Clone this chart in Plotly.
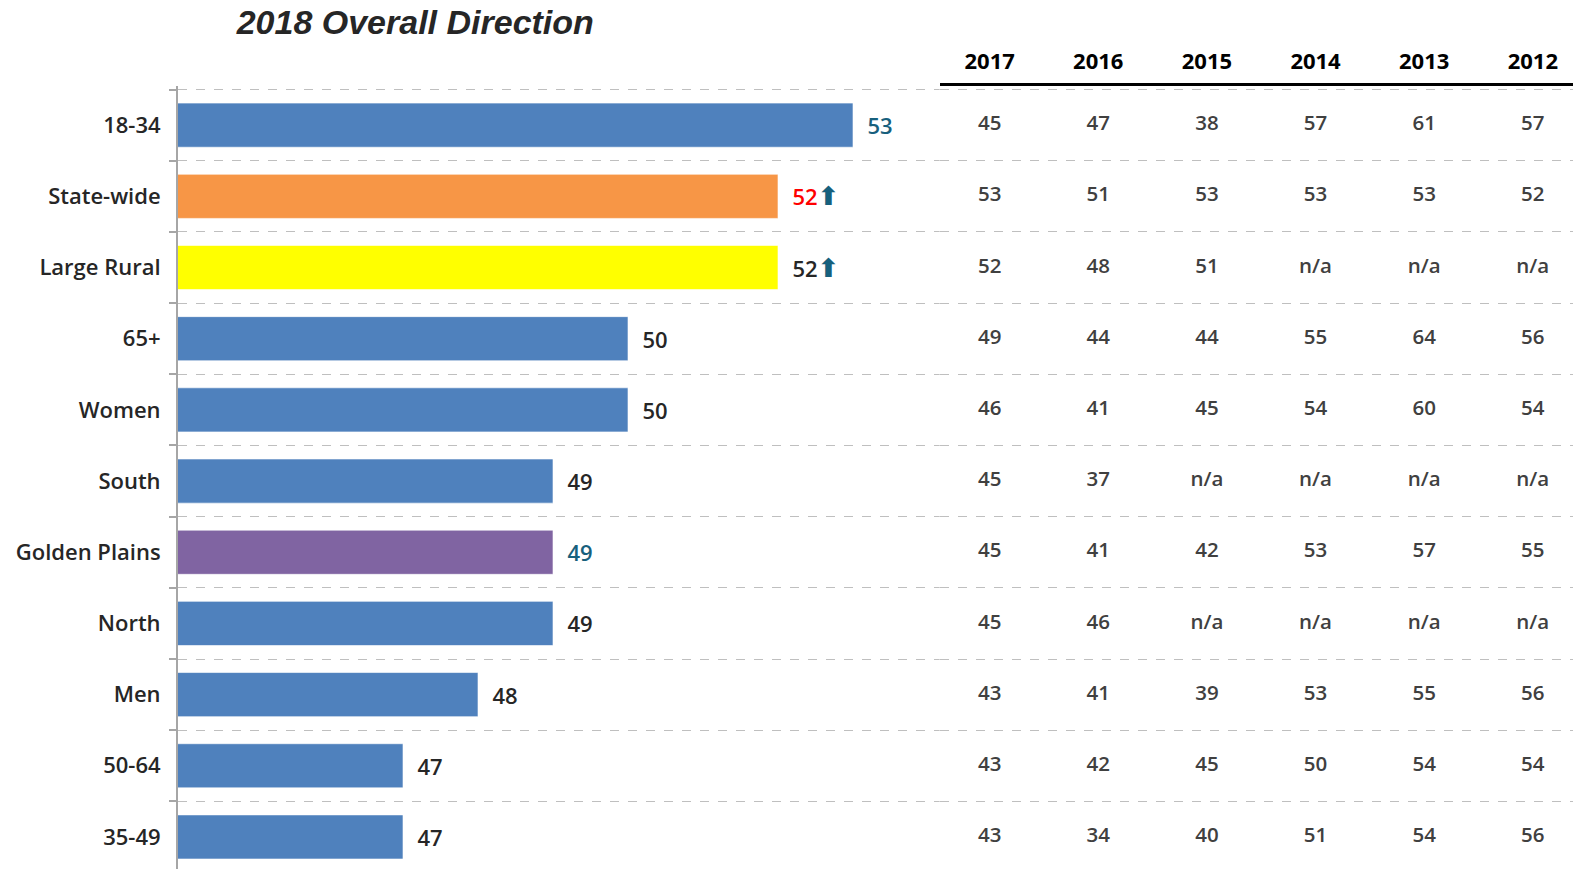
import plotly.graph_objects as go

# --- données ---
categories = ["18-34", "State-wide", "Large Rural", "65+", "Women", "South",
              "Golden Plains", "North", "Men", "50-64", "35-49"]
values_2018 = [53, 52, 52, 50, 50, 49, 49, 49, 48, 47, 47]
bar_colors = ["#4F81BD", "#F79646", "#FFFF00", "#4F81BD", "#4F81BD", "#4F81BD",
              "#8064A2", "#4F81BD", "#4F81BD", "#4F81BD", "#4F81BD"]
years = ["2017", "2016", "2015", "2014", "2013", "2012"]
history = {
    "2017": ["45", "53", "52", "49", "46", "45", "45", "45", "43", "43", "43"],
    "2016": ["47", "51", "48", "44", "41", "37", "41", "46", "41", "42", "34"],
    "2015": ["38", "53", "51", "44", "45", "n/a", "42", "n/a", "39", "45", "40"],
    "2014": ["57", "53", "n/a", "55", "54", "n/a", "53", "n/a", "53", "50", "51"],
    "2013": ["61", "53", "n/a", "64", "60", "n/a", "57", "n/a", "55", "54", "54"],
    "2012": ["57", "52", "n/a", "56", "54", "n/a", "55", "n/a", "56", "54", "56"],
}

TEAL = "#17607D"
# couleur du libellé de chaque barre + flèche éventuelle
label_colors = [TEAL, "red", "#262626", "#262626", "#262626", "#262626",
                TEAL, "#262626", "#262626", "#262626", "#262626"]
arrows = ["", "⬆", "⬆", "", "", "", "", "", "", "", ""]

bar_text = []
for v, c, a in zip(values_2018, label_colors, arrows):
    t = "  <span style='color:%s'>%d</span>" % (c, v)
    if a:
        t += "<span style='color:%s;font-family:DejaVu Sans;font-size:26px'>%s</span>" % (TEAL, a)
    bar_text.append(t)

fig = go.Figure()

fig.add_bar(
    y=categories,
    x=values_2018,
    orientation="h",
    marker=dict(color=bar_colors, line=dict(color="rgba(255,255,255,0.6)", width=1)),
    text=bar_text,
    textposition="outside",
    textfont=dict(family="Open Sans", size=22, weight=600, color="#262626"),
    cliponaxis=False,
    showlegend=False,
)

# tableau des années précédentes
for yr in years:
    fig.add_scatter(
        x=[yr] * len(categories),
        y=categories,
        text=history[yr],
        mode="text",
        textfont=dict(family="Open Sans", size=20.5, weight=600, color="#404040"),
        xaxis="x2",
        yaxis="y",
        showlegend=False,
        hoverinfo="skip",
    )

fig.update_layout(
    width=1573,
    height=869,
    margin=dict(l=178, r=0, t=86, b=0),
    paper_bgcolor="white",
    plot_bgcolor="white",
    bargap=0.38,
    title=dict(
        text="<b><i>2018 Overall Direction</i></b>",
        font=dict(family="Liberation Sans", size=34, color="#262626"),
        x=0.264, xref="container", xanchor="center",
        y=0.974, yref="container", yanchor="middle",
    ),
    xaxis=dict(
        range=[44, 62.6],
        visible=False,
        showgrid=False,
        zeroline=False,
        automargin=False,
    ),
    xaxis2=dict(
        type="category",
        categoryorder="array",
        categoryarray=years,
        range=[-0.46, 5.37],
        domain=[0.546, 1],
        anchor="y",
        side="top",
        showline=True,
        linecolor="black",
        linewidth=3,
        showgrid=False,
        ticks="",
        ticklabelstandoff=5,
        automargin=False,
        tickfont=dict(family="Open Sans", size=22, weight="bold", color="black"),
    ),
    yaxis=dict(
        type="category",
        categoryorder="array",
        categoryarray=categories,
        range=[10.45, -0.55],   # la dernière ligne déborde un peu en bas
        tickson="boundaries",
        ticks="outside",
        ticklen=7,
        tickcolor="#A6A6A6",
        tickwidth=2,
        showline=True,
        linecolor="#A6A6A6",
        linewidth=2,
        showgrid=True,
        gridcolor="#BFBFBF",
        griddash="dash",
        gridwidth=1,
        ticklabelstandoff=11,
        automargin=False,
        tickfont=dict(family="Open Sans", size=22, weight=600, color="#262626"),
        anchor="x",
    ),
)

# enlève la marge par défaut de la page pour que la figure remplisse la fenêtre
fig.write_html("out.html",
               config={"displayModeBar": False},
               post_script="document.body.style.margin='0';document.body.style.overflow='hidden';")
